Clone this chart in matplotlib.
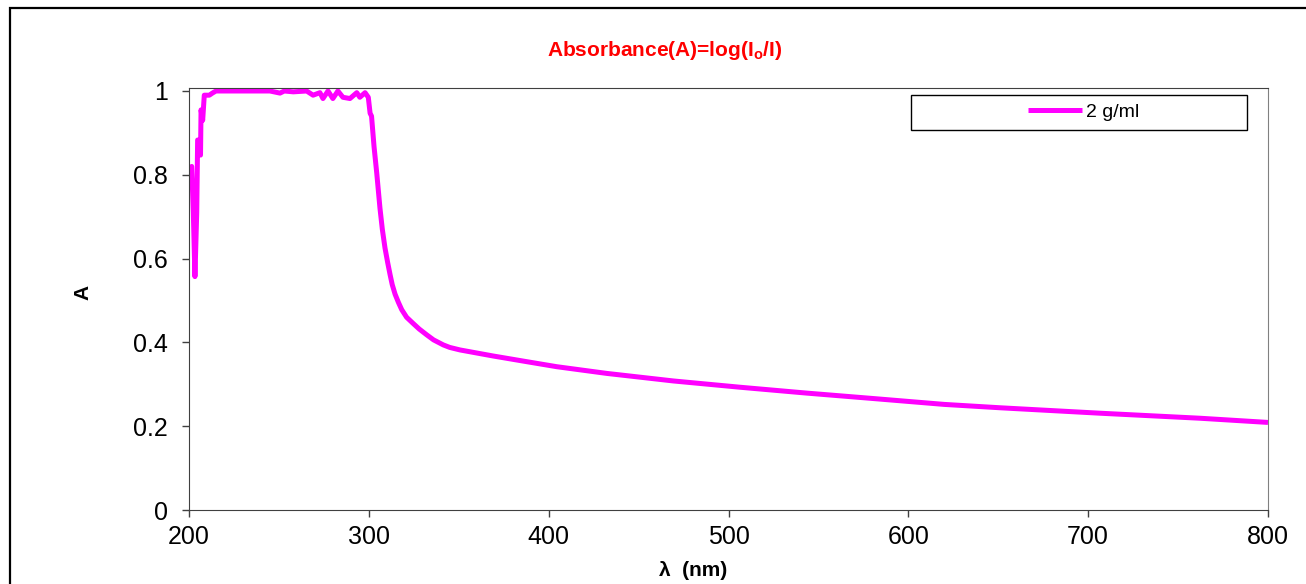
import matplotlib
matplotlib.use('Agg')
import matplotlib.pyplot as plt
from matplotlib.patches import Rectangle
from matplotlib.ticker import FormatStrFormatter
import numpy as np

plt.rcParams['font.family'] = ['Liberation Sans', 'DejaVu Sans']
plt.rcParams['mathtext.fontset'] = 'custom'
plt.rcParams['mathtext.bf'] = 'Liberation Sans:bold'
plt.rcParams['mathtext.rm'] = 'Liberation Sans'

# Absorbance spectrum, values
wavelength = [200.6, 201.5, 202.4, 203.3, 204.3, 204.8, 205.9, 206.4, 206.7, 207.6,
              208.5, 211.3, 213.0, 215.0, 230.0, 245.0, 250.6, 253.0, 258.0, 265.4,
              269.0, 272.8, 274.5, 277.3, 280.0, 282.8, 285.6, 289.5, 293.3, 295.0,
              297.9, 299.7, 300.7, 301.5, 302.9, 304.4, 306.2, 307.5, 309.0, 310.5,
              311.8, 313.0, 314.6, 316.5, 318.3, 321.0, 324.7, 328.0, 332.2, 336.0,
              341.4, 345.0, 350.7, 369.2, 387.8, 404.5, 432.3, 469.3, 506.4, 543.5,
              580.6, 620.0, 651.0, 706.6, 762.2, 800.0]
absorbance = [0.815, 0.82, 0.71, 0.557, 0.71, 0.883, 0.88, 0.847, 0.955, 0.93,
              0.99, 0.99, 0.995, 1.0, 1.0, 1.0, 0.995, 1.0, 0.998, 1.0,
              0.99, 0.996, 0.982, 1.0, 0.982, 1.0, 0.985, 0.982, 0.996, 0.985,
              0.996, 0.985, 0.947, 0.94, 0.867, 0.804, 0.72, 0.67, 0.625, 0.59,
              0.562, 0.538, 0.515, 0.495, 0.478, 0.46, 0.445, 0.432, 0.418, 0.406,
              0.394, 0.388, 0.382, 0.3675, 0.354, 0.342, 0.326, 0.308, 0.293, 0.279,
              0.266, 0.252, 0.244, 0.231, 0.219, 0.209]
series_label = '2 g/ml'
x_ticks = [200, 300, 400, 500, 600, 700, 800]
y_ticks = [0, 0.2, 0.4, 0.6, 0.8, 1.0]

W, H = 1306, 584
fig = plt.figure(figsize=(W / 100, H / 100), dpi=100)
ax = fig.add_axes([189 / W, 1 - 510 / H, 1079 / W, 422.5 / H])

ax.plot(wavelength, absorbance, color='#FF00FF', lw=3.6, label=series_label,
        solid_joinstyle='round', solid_capstyle='butt')

ax.set_xlim(200, 800)
ax.set_ylim(0, 1.0 + 3.5 / 419)
ax.set_xticks(x_ticks)
ax.set_yticks(y_ticks)
ax.yaxis.set_major_formatter(FormatStrFormatter('%g'))
ax.tick_params(axis='both', direction='out', length=5, width=1, color='#404040', labelsize=18)
ax.tick_params(axis='y', pad=10)
ax.tick_params(axis='x', pad=6)

for s in ['left', 'bottom', 'top']:
    ax.spines[s].set_color('#404040')
ax.spines['right'].set_color('#808080')

ax.set_xlabel(r'λ  (nm)', fontsize=15, fontweight='bold')
ax.xaxis.set_label_coords((693 - 189) / 1079, -(561 - 510) / 422.5)
ax.set_ylabel('A', fontsize=15, fontweight='bold')
ax.yaxis.set_label_coords((92 - 189) / 1079, (510 - 292) / 422.5)

fig.text(665 / W, 1 - 50 / H, r'Absorbance(A)=log(I$\mathbf{_o}$/I)', color='red',
         fontsize=15, fontweight='bold', ha='center', va='center')

# legend, centered inside its own frame
ax.legend(loc='center', bbox_to_anchor=((1083.5 - 189) / 1079, (510 - 112) / 422.5),
          frameon=False, fontsize=14, handlelength=2.8, handletextpad=0.2, borderpad=0)
fig.add_artist(Rectangle((911 / W, 1 - 130 / H), 336 / W, 35 / H, transform=fig.transFigure,
                         fill=False, ec='black', lw=1))

# chart area border (runs off the right and bottom edge)
fig.add_artist(Rectangle((10 / W, -0.1), 1.2, 1.1 - 8 / H, transform=fig.transFigure,
                         fill=False, ec='black', lw=1.6))

fig.savefig('out.png', dpi=100)
